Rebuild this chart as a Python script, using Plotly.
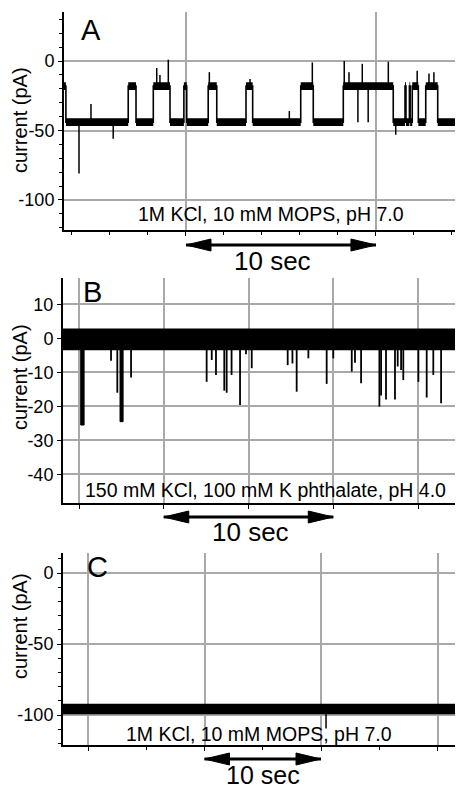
import plotly.graph_objects as go

W, H = 458, 789
FONT = "Liberation Sans, Arial, sans-serif"
GRID = "#a9a9a9"

# ---------------- Panel A data (time in s, current in pA) ----------------
a_state_t = [3.58, 3.68, 6.96, 7.37, 8.28, 9.16, 9.89, 10.04, 11.17, 11.62, 13.16, 13.51,
             16.04, 16.70, 18.28, 20.91, 21.53, 21.58, 21.76, 21.80, 21.91, 22.23, 22.62, 23.25]
a_state_level = [-18, -44, -18, -44, -18, -44, -18, -44, -18, -44, -18, -44,
                 -18, -44, -18, -44, -18, -44, -18, -44, -18, -44, -18, -44]
a_t_end = 24.16
a_noise = 2.8
a_spike_t = [4.37, 5.0, 6.17, 8.46, 8.63, 9.07, 11.23, 13.37, 15.44, 16.65, 18.33, 18.58,
             19.05, 19.28, 19.59, 20.65, 21.04, 22.17, 22.79, 23.05]
a_spike_v = [-81, -31, -56, -5, -10, 1, -8, -13, -36, -1, 0, -8,
             -44, -2, -44, -0.5, -53, -7, -9, -8]
a_x_range = [3.58, 24.16]
a_y_range = [-121.6, 35.3]
a_ytick_vals = [0, -50, -100]
a_ytick_text = ["0", "-50", "-100"]

# ---------------- Panel B data ----------------
b_t_start, b_t_end = -0.944, 22.18
b_band_top, b_band_bottom = 2.9, -3.5
b_block_start = [0.10, 2.42]
b_block_end = [0.30, 2.60]
b_block_level = [-25.5, -24.5]
b_spike_t = [1.89, 2.26, 3.07, 7.53, 7.83, 8.08, 8.57, 8.71, 9.0, 9.5, 9.85, 10.19,
             12.31, 12.59, 12.84, 13.53, 14.61, 15.0, 16.09, 16.28, 16.64, 17.72, 17.82,
             18.11, 18.64, 18.8, 19.0, 19.13, 20.02, 20.51, 20.90, 21.36]
b_spike_v = [-6.6, -16, -11.5, -12.8, -6.4, -10.8, -15.4, -16, -10.8, -19.6, -4.7, -8.8,
             -7.9, -7.4, -15.7, -5.9, -13.4, -5.9, -9.8, -7.2, -13.2, -20.1, -16.8,
             -18, -18, -8.3, -9.3, -12.3, -12.8, -17.4, -10.8, -19.1]
b_x_range = [-0.944, 22.18]
b_y_range = [-48.4, 17.7]
b_ytick_vals = [10, 0, -10, -20, -30, -40]
b_ytick_text = ["10", "0", "-10", "-20", "-30", "-40"]

# ---------------- Panel C data ----------------
c_t_start, c_t_end = -2.146, 31.5
c_band_top, c_band_bottom = -92.0, -99.5
c_spike_t = [20.43]
c_spike_v = [-109.4]
c_x_range = [-2.146, 31.5]
c_y_range = [-121.1, 14.1]
c_ytick_vals = [0, -50, -100]
c_ytick_text = ["0", "-50", "-100"]

panel_labels = ["A", "B", "C"]
conditions = ["1M KCl, 10 mM MOPS, pH 7.0",
              "150 mM KCl, 100 mM K phthalate, pH 4.0",
              "1M KCl, 10 mM MOPS, pH 7.0"]
scale_text = "10 sec"
scale_from = [10, 5, 10]
scale_to = [20, 15, 20]
y_title = "current (pA)"


def px(x):
    return x / W


def py(y):
    return 1 - y / H


fig = go.Figure()

# ----- Panel A traces -----
ends = a_state_t[1:] + [a_t_end]
bx, by = [], []
for s, e, lv in zip(a_state_t, ends, a_state_level):
    bx += [s, e, e, s, s, None]
    by += [lv + a_noise, lv + a_noise, lv - a_noise, lv - a_noise, lv + a_noise, None]
fig.add_trace(go.Scatter(x=bx, y=by, fill="toself", fillcolor="black", mode="lines",
                         line=dict(width=0, color="black"), xaxis="x", yaxis="y",
                         hoverinfo="skip", showlegend=False))
fig.add_trace(go.Scatter(x=a_state_t + [a_t_end], y=a_state_level + [a_state_level[-1]],
                         mode="lines", line=dict(color="black", width=1.6, shape="hv"),
                         xaxis="x", yaxis="y", showlegend=False))


def a_level_at(t):
    lv = a_state_level[0]
    for s, l in zip(a_state_t, a_state_level):
        if s <= t:
            lv = l
    return lv


sx, sy = [], []
for t, v in zip(a_spike_t, a_spike_v):
    sx += [t, t, None]
    sy += [a_level_at(t), v, None]
fig.add_trace(go.Scatter(x=sx, y=sy, mode="lines", line=dict(color="black", width=1.5),
                         xaxis="x", yaxis="y", showlegend=False))

# ----- Panel B traces -----
fig.add_trace(go.Scatter(x=[b_t_start, b_t_end, b_t_end, b_t_start, b_t_start],
                         y=[b_band_top, b_band_top, b_band_bottom, b_band_bottom, b_band_top],
                         fill="toself", fillcolor="black", mode="lines",
                         line=dict(width=0, color="black"), xaxis="x2", yaxis="y2",
                         showlegend=False))
kx, ky = [], []
for s, e, lv in zip(b_block_start, b_block_end, b_block_level):
    kx += [s, e, e, s, s, None]
    ky += [0, 0, lv, lv, 0, None]
fig.add_trace(go.Scatter(x=kx, y=ky, fill="toself", fillcolor="black", mode="lines",
                         line=dict(width=1, color="black"), xaxis="x2", yaxis="y2",
                         showlegend=False))
sx, sy = [], []
for t, v in zip(b_spike_t, b_spike_v):
    sx += [t, t, None]
    sy += [0, v, None]
fig.add_trace(go.Scatter(x=sx, y=sy, mode="lines", line=dict(color="black", width=1.8),
                         xaxis="x2", yaxis="y2", showlegend=False))

# ----- Panel C traces -----
fig.add_trace(go.Scatter(x=[c_t_start, c_t_end, c_t_end, c_t_start, c_t_start],
                         y=[c_band_top, c_band_top, c_band_bottom, c_band_bottom, c_band_top],
                         fill="toself", fillcolor="black", mode="lines",
                         line=dict(width=0, color="black"), xaxis="x3", yaxis="y3",
                         showlegend=False))
cmid = (c_band_top + c_band_bottom) / 2
sx, sy = [], []
for t, v in zip(c_spike_t, c_spike_v):
    sx += [t, t, None]
    sy += [cmid, v, None]
fig.add_trace(go.Scatter(x=sx, y=sy, mode="lines", line=dict(color="black", width=1.5),
                         xaxis="x3", yaxis="y3", showlegend=False))

# ----- axes -----
common_x = dict(showticklabels=False, showline=True, linecolor="black", linewidth=2,
                showgrid=True, gridcolor=GRID, gridwidth=1.5, zeroline=False,
                ticks="outside", ticklen=4, tickcolor="black", tickwidth=1.2, tick0=0)
common_y = dict(showline=True, linecolor="black", linewidth=2, showgrid=True,
                gridcolor=GRID, gridwidth=1.5, zeroline=False, ticks="outside",
                ticklen=4, tickcolor="black", tickwidth=1.2, tickmode="array",
                tickfont=dict(family=FONT, size=18, color="black"))

domA = [py(230), py(12)]
domB = [py(503), py(278)]
domC = [py(745), py(553)]

fig.update_layout(
    width=W, height=H, margin=dict(l=0, r=0, t=0, b=0),
    paper_bgcolor="white", plot_bgcolor="white", showlegend=False,
    xaxis=dict(common_x, domain=[px(64), px(455)], range=a_x_range, dtick=10, anchor="y",
               minor=dict(ticks="outside", ticklen=3, tickcolor="black", dtick=2, tick0=0,
                          showgrid=False)),
    yaxis=dict(common_y, domain=domA, range=a_y_range, anchor="x",
               tickvals=a_ytick_vals, ticktext=a_ytick_text,
               minor=dict(ticks="outside", ticklen=3, tickcolor="black", tickmode="linear",
                          dtick=10, tick0=0, showgrid=False)),
    xaxis2=dict(common_x, domain=[px(63), px(455)], range=b_x_range, dtick=5, anchor="y2"),
    yaxis2=dict(common_y, domain=domB, range=b_y_range, anchor="x2",
                tickvals=b_ytick_vals, ticktext=b_ytick_text),
    xaxis3=dict(common_x, domain=[px(63), px(455)], range=c_x_range, dtick=10, anchor="y3",
                minor=dict(ticks="outside", ticklen=3, tickcolor="black", dtick=5, tick0=0,
                           showgrid=False)),
    yaxis3=dict(common_y, domain=domC, range=c_y_range, anchor="x3",
                tickvals=c_ytick_vals, ticktext=c_ytick_text,
                minor=dict(ticks="outside", ticklen=3, tickcolor="black", tickmode="linear",
                           dtick=10, tick0=0, showgrid=False)),
)

ann = []
shapes = []
label_pos = [(91, 30), (92, 292), (97, 567)]
cond_pos = [(271, 214), (265, 490), (259, 734)]
ytitle_pos = [(20, 120), (20, 377), (20, 626)]
arrow_y = [245, 517, 759]
text_pos = [(272, 261), (250, 532), (263, 775)]
text_size = [26, 26, 25]
xrefs = ["x", "x2", "x3"]

for i in range(3):
    ann.append(dict(text=panel_labels[i], x=px(label_pos[i][0]), y=py(label_pos[i][1]),
                    xref="paper", yref="paper", showarrow=False, xanchor="center",
                    yanchor="middle", font=dict(family=FONT, size=29, color="black")))
    ann.append(dict(text=conditions[i], x=px(cond_pos[i][0]), y=py(cond_pos[i][1]),
                    xref="paper", yref="paper", showarrow=False, xanchor="center",
                    yanchor="middle", font=dict(family=FONT, size=19.5, color="black")))
    ann.append(dict(text=y_title, x=px(ytitle_pos[i][0]), y=py(ytitle_pos[i][1]),
                    xref="paper", yref="paper", showarrow=False, textangle=-90,
                    xanchor="center", yanchor="middle",
                    font=dict(family=FONT, size=20, color="black")))
    ann.append(dict(text=scale_text, x=px(text_pos[i][0]), y=py(text_pos[i][1]),
                    xref="paper", yref="paper", showarrow=False, xanchor="center",
                    yanchor="middle", borderpad=0,
                    font=dict(family=FONT, size=text_size[i], color="black")))
    yp = py(arrow_y[i])
    shapes.append(dict(type="line", xref=xrefs[i], yref="paper",
                       x0=scale_from[i], x1=scale_to[i], y0=yp, y1=yp,
                       line=dict(color="black", width=3)))
    shapes.append(dict(type="path", xref=xrefs[i], yref="paper", xsizemode="pixel",
                       ysizemode="pixel", xanchor=scale_to[i], yanchor=yp,
                       path="M0,0 L-25,6 L-25,-6 Z", fillcolor="black",
                       line=dict(color="black", width=1)))
    shapes.append(dict(type="path", xref=xrefs[i], yref="paper", xsizemode="pixel",
                       ysizemode="pixel", xanchor=scale_from[i], yanchor=yp,
                       path="M0,0 L25,6 L25,-6 Z", fillcolor="black",
                       line=dict(color="black", width=1)))

fig.update_layout(annotations=ann, shapes=shapes)
fig.write_html("out.html", config={"displayModeBar": False},
               post_script="document.body.style.margin='0';document.body.style.overflow='hidden';")
